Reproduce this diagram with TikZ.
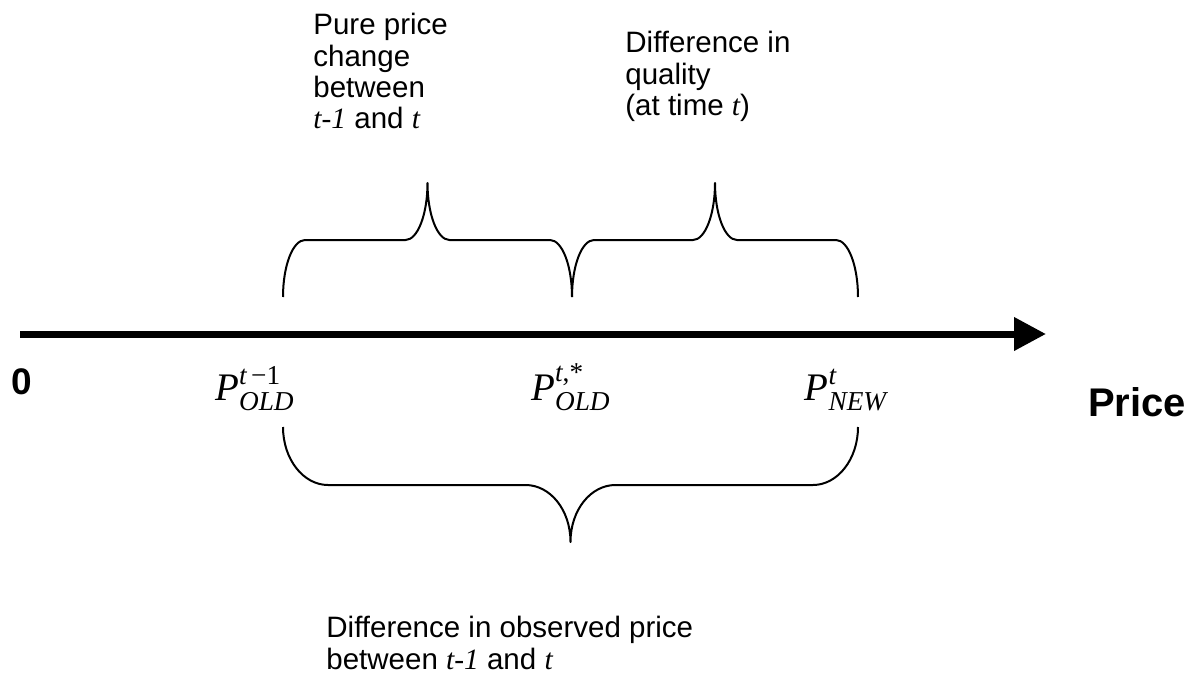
\documentclass[tikz,border=0pt]{standalone}
\usepackage{amsmath}
\usepackage{fontspec}
\setmainfont{Liberation Sans}
\newfontfamily\tms{Liberation Serif}
\usetikzlibrary{arrows.meta}
\begin{document}
\begin{tikzpicture}[x=0.5pt,y=-0.5pt,
  lbl/.style={font=\fontsize{14.75pt}{15.7pt}\selectfont, align=left, inner sep=0pt, anchor=north west},
  bracepath/.style={line width=1pt, line join=round},
  axisline/.style={line width=3.5pt, -{Triangle[length=16pt,width=16pt]}},
  plabel/.style={font=\fontsize{19.5pt}{22pt}\selectfont\tms, inner sep=0pt, anchor=base},
  boldlbl/.style={font=\bfseries, inner sep=0pt}]
\fill[white] (0,0) rectangle (1200,680);
\useasboundingbox (0,0) rectangle (1200,680);

% axis
\coordinate (axstart) at (20,334);
\coordinate (axend) at (1046,334);
\draw[axisline] (axstart) -- (axend);

% axis labels
\node[boldlbl, font=\fontsize{18.5pt}{20pt}\selectfont\bfseries] (zero) at (22,382) {0};
\node[boldlbl, font=\fontsize{20pt}{22pt}\selectfont\bfseries] (price) at (1137,402) {Price};

% price labels
\node[plabel] (pold) at (255,400) {\itshape P$^{\text{\itshape t\upshape\,\char"2212 1}}_{\text{\itshape OLD}}$};
\node[plabel] (pstar) at (571,400) {\itshape P$^{\text{\itshape t\upshape,*}}_{\text{\itshape OLD}}$};
\node[plabel] (pnew) at (846,400) {\itshape P$^{\text{\itshape t}}_{\text{\itshape NEW}}$};

% top-left brace
\draw[bracepath] (283,297) .. controls (283,265.5) and (292.9,240) .. (305,240)
  -- (405.5,240) .. controls (417.6,240) and (427.5,214.5) .. (427.5,183)
  .. controls (427.5,214.5) and (437.4,240) .. (449.5,240)
  -- (550,240) .. controls (562.1,240) and (572,265.5) .. (572,297);
% top-right brace
\draw[bracepath] (572,297) .. controls (572,265.5) and (581.9,240) .. (594,240)
  -- (693,240) .. controls (705.1,240) and (715,214.5) .. (715,183)
  .. controls (715,214.5) and (724.9,240) .. (737,240)
  -- (836,240) .. controls (848.1,240) and (858,265.5) .. (858,297);
% bottom brace
\draw[bracepath] (283,427) .. controls (283,459) and (303.2,485) .. (328,485)
  -- (525.5,485) .. controls (550.3,485) and (570.5,510) .. (570.5,542)
  .. controls (570.5,510) and (590.7,485) .. (615.5,485)
  -- (813,485) .. controls (837.8,485) and (858,459) .. (858,427);

% texts
\node[lbl] (pure) at (313,13) {Pure price\\change\\between\\{\tms\itshape t-1} and {\tms\itshape t}};
\node[lbl] (qual) at (625,31) {Difference in\\quality\\(at time {\tms\itshape t})};
\node[lbl] (obs) at (326,616) {Difference in observed price\\between {\tms\itshape t-1} and {\tms\itshape t}};
\end{tikzpicture}
\end{document}
